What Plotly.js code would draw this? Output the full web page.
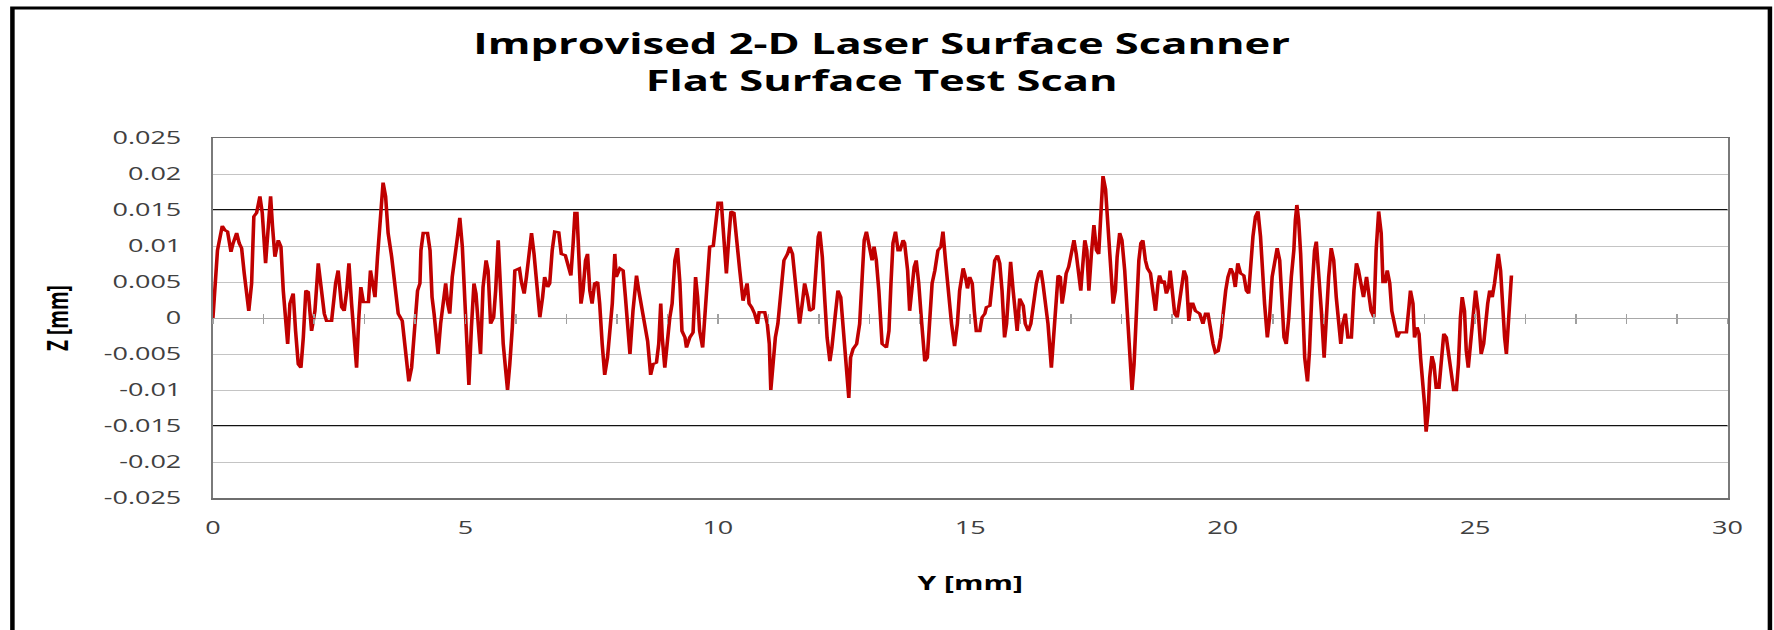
<!DOCTYPE html>
<html>
<head>
<meta charset="utf-8">
<script src="https://cdn.plot.ly/plotly-3.0.1.min.js"></script>
<style>
  html, body { margin: 0; padding: 0; background: #ffffff; overflow: hidden; }
  #wrap { width: 1183px; height: 630px; transform: scaleX(1.49958); transform-origin: 0 0; }
  #chart { width: 1183px; height: 630px; }
</style>
</head>
<body>
<div id="wrap"><div id="chart"></div></div>
<script>
// ---- Data (Y position in mm, Z height in mm) ----
const yPos_0_4 = [0, 0.04, 0.09, 0.185, 0.238, 0.29, 0.357, 0.40, 0.47, 0.52, 0.568, 0.62, 0.67, 0.71, 0.766, 0.81, 0.865, 0.93, 0.977, 1.043, 1.076, 1.142, 1.18, 1.228, 1.294, 1.347, 1.393, 1.44, 1.48, 1.525, 1.59, 1.637, 1.69, 1.743, 1.79, 1.84, 1.888, 1.954, 2.02, 2.086, 2.139, 2.205, 2.25, 2.35, 2.43, 2.48, 2.55, 2.6, 2.65, 2.694, 2.746, 2.8, 2.845, 2.89, 2.93, 2.98, 3.08, 3.12, 3.16, 3.21, 3.26, 3.32, 3.37, 3.42, 3.47, 3.54, 3.6, 3.67, 3.75, 3.80, 3.855, 3.88, 3.935, 3.99, 4.053, 4.1];
const zHeight_0_4 = [0, 0.0048, 0.0094, 0.0128, 0.0122, 0.0120, 0.0092, 0.0104, 0.0118, 0.0104, 0.0097, 0.0062, 0.0024, 0.0010, 0.0048, 0.0141, 0.0146, 0.0169, 0.0146, 0.0076, 0.0108, 0.0169, 0.0127, 0.0085, 0.0108, 0.0099, 0.0038, -0.0013, -0.0036, 0.0020, 0.0034, -0.0018, -0.0064, -0.0069, -0.0027, 0.0038, 0.0036, -0.0018, 0.0010, 0.0076, 0.0038, 0.0006, -0.0004, -0.0004, 0.0048, 0.0066, 0.0015, 0.0010, 0.0038, 0.0076, 0.0020, -0.0036, -0.0069, 0.0001, 0.0043, 0.0022, 0.0022, 0.0066, 0.0048, 0.0029, 0.0085, 0.0150, 0.0188, 0.0169, 0.0118, 0.0085, 0.0048, 0.0006, -0.0004, -0.0036, -0.0074, -0.0088, -0.0069, -0.0013, 0.0038, 0.0048];

const yPos_4_8 = [4.12, 4.165, 4.25, 4.3, 4.34, 4.38, 4.43, 4.46, 4.51, 4.56, 4.61, 4.65, 4.69, 4.74, 4.79, 4.845, 4.89, 4.94, 4.99, 5.04, 5.07, 5.12, 5.17, 5.21, 5.25, 5.30, 5.35, 5.41, 5.45, 5.5, 5.56, 5.6, 5.65, 5.70, 5.75, 5.8, 5.835, 5.88, 5.93, 5.98, 6.07, 6.11, 6.165, 6.21, 6.26, 6.31, 6.36, 6.41, 6.475, 6.53, 6.57, 6.63, 6.67, 6.72, 6.77, 6.85, 6.9, 6.98, 7.04, 7.09, 7.135, 7.17, 7.21, 7.25, 7.29, 7.33, 7.38, 7.42, 7.465, 7.51, 7.56, 7.62, 7.66, 7.71, 7.76, 7.815, 7.86, 7.91, 7.96, 7.99, 8.06, 8.125, 8.17, 8.22, 8.26];
const zHeight_4_8 = [0.0094, 0.0118, 0.0118, 0.0094, 0.0029, 0.0006, -0.0022, -0.0050, -0.0008, 0.0020, 0.0048, 0.0020, 0.0006, 0.0057, 0.0080, 0.0113, 0.0139, 0.0099, 0.0024, -0.0046, -0.0093, -0.0013, 0.0048, 0.0034, -0.0008, -0.0050, 0.0043, 0.0080, 0.0066, -0.0008, 0.0001, 0.0038, 0.0108, 0.0029, -0.0036, -0.0074, -0.0100, -0.0064, -0.0013, 0.0066, 0.0069, 0.0050, 0.0034, 0.0057, 0.0085, 0.0118, 0.0089, 0.0048, 0.0001, 0.0029, 0.0057, 0.0043, 0.0048, 0.0094, 0.0120, 0.0119, 0.0089, 0.0087, 0.0073, 0.0059, 0.0104, 0.0146, 0.0146, 0.0089, 0.0020, 0.0038, 0.0080, 0.0089, 0.0038, 0.0020, 0.0048, 0.0050, 0.0020, -0.0036, -0.0079, -0.0055, -0.0018, 0.0020, 0.0089, 0.0057, 0.0069, 0.0066, 0.0029, -0.0013, -0.0050];

const yPos_8_12 = [8.32, 8.39, 8.435, 8.49, 8.55, 8.61, 8.67, 8.72, 8.785, 8.83, 8.87, 8.9, 8.95, 9.0, 9.05, 9.095, 9.15, 9.2, 9.25, 9.29, 9.35, 9.38, 9.445, 9.51, 9.56, 9.6, 9.64, 9.7, 9.74, 9.795, 9.84, 9.91, 9.95, 10.005, 10.07, 10.125, 10.17, 10.22, 10.26, 10.32, 10.37, 10.435, 10.5, 10.55, 10.58, 10.62, 10.67, 10.73, 10.785, 10.82, 10.93, 10.98, 11.02, 11.05, 11.09, 11.14, 11.19, 11.26, 11.31, 11.38, 11.425, 11.48, 11.52, 11.57, 11.62, 11.68, 11.72, 11.78, 11.82, 11.89, 11.93, 11.99, 12.02, 12.07, 12.12, 12.165, 12.22, 12.26, 12.33, 12.38, 12.435];
const zHeight_8_12 = [0.0010, 0.0059, 0.0038, 0.0015, -0.0004, -0.0032, -0.0079, -0.0064, -0.0062, -0.0036, 0.0020, -0.0027, -0.0069, -0.0032, 0.0001, 0.0020, 0.0080, 0.0097, 0.0048, -0.0018, -0.0027, -0.0041, -0.0027, -0.0020, 0.0057, 0.0029, -0.0018, -0.0041, 0.0001, 0.0057, 0.0099, 0.0100, 0.0132, 0.0160, 0.0160, 0.0094, 0.0062, 0.0113, 0.0148, 0.0146, 0.0104, 0.0066, 0.0024, 0.0038, 0.0048, 0.0020, 0.0015, 0.0006, -0.0008, 0.0008, 0.0008, -0.0008, -0.0036, -0.0100, -0.0069, -0.0027, -0.0008, 0.0048, 0.0080, 0.0089, 0.0099, 0.0089, 0.0057, 0.0029, -0.0008, 0.0024, 0.0048, 0.0029, 0.0010, 0.0013, 0.0062, 0.0113, 0.0120, 0.0085, 0.0024, -0.0027, -0.0060, -0.0041, 0.0006, 0.0038, 0.0029];

const yPos_12_16 = [12.515, 12.57, 12.595, 12.63, 12.68, 12.75, 12.81, 12.86, 12.9, 12.944, 13.01, 13.056, 13.095, 13.14, 13.19, 13.23, 13.254, 13.34, 13.39, 13.43, 13.47, 13.52, 13.57, 13.61, 13.67, 13.70, 13.76, 13.8, 13.85, 13.89, 13.93, 13.98, 14.03, 14.07, 14.1, 14.15, 14.2, 14.245, 14.3, 14.36, 14.42, 14.46, 14.51, 14.56, 14.63, 14.69, 14.745, 14.79, 14.86, 14.905, 14.945, 14.99, 15.04, 15.08, 15.12, 15.19, 15.235, 15.29, 15.32, 15.39, 15.43, 15.485, 15.54, 15.585, 15.63, 15.68, 15.72, 15.76, 15.8, 15.85, 15.88, 15.93, 15.98, 16.05, 16.09, 16.15, 16.2, 16.245, 16.31, 16.36, 16.4, 16.44, 16.49, 16.54];
const zHeight_12_16 = [-0.0036, -0.0093, -0.0111, -0.0055, -0.0043, -0.0036, -0.0008, 0.0057, 0.0108, 0.0120, 0.0099, 0.0080, 0.0099, 0.0080, 0.0038, -0.0018, -0.0036, -0.0041, -0.0018, 0.0048, 0.0104, 0.0120, 0.0094, 0.0094, 0.0108, 0.0104, 0.0066, 0.0010, 0.0048, 0.0071, 0.0080, 0.0048, 0.0001, -0.0027, -0.0060, -0.0055, -0.0008, 0.0048, 0.0066, 0.0094, 0.0099, 0.0120, 0.0080, 0.0038, -0.0008, -0.0039, -0.0008, 0.0038, 0.0069, 0.0057, 0.0041, 0.0057, 0.0048, 0.0010, -0.0018, -0.0018, 0.0001, 0.0006, 0.0015, 0.0017, 0.0048, 0.0080, 0.0087, 0.0076, 0.0038, -0.0027, -0.0008, 0.0038, 0.0078, 0.0038, 0.0020, -0.0018, 0.0027, 0.0017, -0.0008, -0.0018, -0.0008, 0.0020, 0.0048, 0.0062, 0.0066, 0.0048, 0.0020, -0.0008];

const yPos_16_21 = [16.607, 16.66, 16.705, 16.74, 16.785, 16.82, 16.86, 16.9, 16.95, 17.0, 17.055, 17.1, 17.15, 17.19, 17.21, 17.27, 17.31, 17.35, 17.4, 17.45, 17.5, 17.545, 17.585, 17.63, 17.68, 17.73, 17.78, 17.83, 17.875, 17.91, 17.96, 18.005, 18.06, 18.11, 18.16, 18.205, 18.245, 18.29, 18.34, 18.38, 18.42, 18.47, 18.51, 18.57, 18.62, 18.67, 18.72, 18.75, 18.8, 18.84, 18.885, 18.93, 18.96, 19.0, 19.05, 19.1, 19.15, 19.2, 19.235, 19.28, 19.33, 19.38, 19.41, 19.46, 19.545, 19.61, 19.66, 19.71, 19.755, 19.81, 19.855, 19.91, 19.96, 20.01, 20.06, 20.105, 20.16, 20.205, 20.25, 20.30, 20.355, 20.42, 20.47, 20.515, 20.555, 20.6, 20.65, 20.7, 20.75];
const zHeight_16_21 = [-0.0069, -0.0008, 0.0029, 0.0059, 0.0057, 0.0020, 0.0038, 0.0062, 0.0071, 0.0089, 0.0108, 0.0089, 0.0057, 0.0038, 0.0057, 0.0108, 0.0094, 0.0038, 0.0089, 0.0129, 0.0094, 0.0089, 0.0141, 0.0197, 0.0179, 0.0132, 0.0076, 0.0020, 0.0038, 0.0085, 0.0118, 0.0108, 0.0066, 0.0015, -0.0055, -0.0100, -0.0064, 0.0020, 0.0080, 0.0104, 0.0108, 0.0080, 0.0069, 0.0062, 0.0029, 0.0010, 0.0048, 0.0059, 0.0048, 0.0052, 0.0034, 0.0043, 0.0066, 0.0038, 0.0006, 0.0001, 0.0029, 0.0048, 0.0066, 0.0057, -0.0004, 0.0020, 0.0020, 0.0010, 0.0006, -0.0008, 0.0006, 0.0006, -0.0018, -0.0036, -0.0048, -0.0046, -0.0027, 0.0010, 0.0038, 0.0057, 0.0069, 0.0062, 0.0043, 0.0076, 0.0062, 0.0059, 0.0038, 0.0034, 0.0076, 0.0113, 0.0141, 0.0148, 0.0113];

const yPos_21_23 = [20.8, 20.83, 20.885, 20.93, 20.98, 21.03, 21.08, 21.13, 21.175, 21.215, 21.26, 21.31, 21.36, 21.41, 21.44, 21.47, 21.505, 21.545, 21.59, 21.625, 21.68, 21.72, 21.77, 21.82, 21.855, 21.9, 21.955, 22.01, 22.05, 22.1, 22.15, 22.2, 22.25, 22.3, 22.34, 22.38, 22.43, 22.48, 22.55, 22.6, 22.65, 22.69, 22.75, 22.79, 22.85, 22.89, 22.94, 22.995, 23.04, 23.09, 23.14, 23.175, 23.22, 23.26, 23.31, 23.35, 23.41, 23.46];
const zHeight_21_23 = [0.0048, 0.0020, -0.0027, 0.0001, 0.0057, 0.0080, 0.0097, 0.0080, 0.0029, -0.0027, -0.0036, 0.0001, 0.0057, 0.0094, 0.0136, 0.0157, 0.0136, 0.0089, 0.0010, -0.0055, -0.0088, -0.0046, 0.0038, 0.0094, 0.0106, 0.0066, 0.0010, -0.0055, 0.0001, 0.0057, 0.0097, 0.0080, 0.0029, -0.0008, -0.0036, -0.0008, 0.0006, -0.0027, -0.0027, 0.0038, 0.0076, 0.0066, 0.0038, 0.0029, 0.0057, 0.0038, 0.0010, 0.0001, 0.0094, 0.0148, 0.0118, 0.0050, 0.0050, 0.0066, 0.0048, 0.0010, -0.0013, -0.0027];

const yPos_23_26 = [23.505, 23.64, 23.69, 23.72, 23.77, 23.8, 23.85, 23.89, 23.92, 23.97, 24.0, 24.03, 24.07, 24.1, 24.145, 24.185, 24.23, 24.285, 24.33, 24.38, 24.43, 24.48, 24.53, 24.575, 24.63, 24.67, 24.71, 24.745, 24.79, 24.825, 24.865, 24.905, 24.96, 25.01, 25.06, 25.09, 25.12, 25.17, 25.21, 25.25, 25.29, 25.34, 25.385, 25.42, 25.46, 25.505, 25.54, 25.585, 25.62, 25.65, 25.685, 25.72];
const zHeight_23_26 = [-0.0020, -0.0020, 0.0015, 0.0038, 0.0020, -0.0027, -0.0013, -0.0022, -0.0055, -0.0092, -0.0121, -0.0158, -0.0130, -0.0083, -0.0053, -0.0064, -0.0097, -0.0097, -0.0064, -0.0022, -0.0027, -0.0055, -0.0083, -0.0100, -0.0100, -0.0064, 0.0001, 0.0029, 0.0010, -0.0045, -0.0069, -0.0036, 0.0015, 0.0038, 0.0010, -0.0032, -0.0050, -0.0036, 0.0001, 0.0020, 0.0038, 0.0029, 0.0048, 0.0066, 0.0089, 0.0066, 0.0010, -0.0027, -0.0050, -0.0018, 0.0034, 0.0059];

// Tolerance limit lines (mm)
const limitLines = [0.015, -0.015];

// Tick labels
const xTickValues = [0, 5, 10, 15, 20, 25, 30];
const xTickText = ['0', '5', '10', '15', '20', '25', '30'];
const zTickValues = [0.025, 0.02, 0.015, 0.01, 0.005, 0, -0.005, -0.01, -0.015, -0.02, -0.025];
const zTickText = ['0.025', '0.02', '0.015', '0.01', '0.005', '0', '-0.005', '-0.01', '-0.015', '-0.02', '-0.025'];

const titleText = 'Improvised 2-D Laser Surface Scanner<br>Flat Surface Test Scan';
const xTitle = 'Y [mm]';
const zTitle = 'Z [mm]';

// ---- Assemble ----
const yPosition = [].concat(yPos_0_4, yPos_4_8, yPos_8_12, yPos_12_16, yPos_16_21, yPos_21_23, yPos_23_26);
const zHeight = [].concat(zHeight_0_4, zHeight_4_8, zHeight_8_12, zHeight_12_16, zHeight_16_21, zHeight_21_23, zHeight_23_26);

const FONT = '"Open Sans", "Liberation Sans", Arial, sans-serif';

const traces = [
  {
    x: yPosition, y: zHeight, type: 'scatter', mode: 'lines',
    line: { color: '#c00000', width: 2.4 },
    hoverinfo: 'skip', showlegend: false
  },
  // carriers for the tick-mark axes running along Z = 0
  { x: yPosition, y: zHeight, xaxis: 'x2', yaxis: 'y', type: 'scatter', mode: 'none', hoverinfo: 'skip', showlegend: false },
  { x: yPosition, y: zHeight, xaxis: 'x3', yaxis: 'y', type: 'scatter', mode: 'none', hoverinfo: 'skip', showlegend: false }
];

const shapes = limitLines.map(v => ({
  type: 'line', xref: 'paper', yref: 'y', x0: 0, x1: 1, y0: v, y1: v,
  line: { color: '#111111', width: 2 }, layer: 'between'
}));
// outer chart frame (left, top, right)
shapes.push({
  type: 'path', xref: 'paper', yref: 'paper',
  path: 'M -0.1324,-0.45 L -0.1324,1.3611 L 1.028,1.3611 L 1.028,-0.45',
  line: { color: '#000000', width: 3 }, layer: 'above'
});

const layout = {
  width: 1183, height: 630,
  paper_bgcolor: '#ffffff', plot_bgcolor: '#ffffff',
  margin: { l: 142, r: 31, t: 138, b: 132, autoexpand: false },
  font: { family: FONT, color: '#404040' },
  title: {
    text: titleText, x: 0.497, xref: 'container', xanchor: 'center',
    y: 0.915, yref: 'container', yanchor: 'top',
    font: { family: FONT, size: 29, color: '#000000', weight: 700 }
  },
  xaxis: {
    range: [0, 30], tickvals: xTickValues, ticktext: xTickText,
    showgrid: false, zeroline: false, ticks: '',
    showline: true, mirror: true, linecolor: '#6e6e6e', linewidth: 1.5,
    tickfont: { family: FONT, size: 18, color: '#404040' },
    ticklabelstandoff: 13,
    title: { text: xTitle, standoff: 38, font: { family: FONT, size: 20, color: '#000000', weight: 700 } },
    automargin: false, fixedrange: true
  },
  xaxis2: {
    overlaying: 'x', anchor: 'free', position: 0.5, range: [0, 30],
    tick0: 0, dtick: 1, ticks: 'inside', ticklen: 4, tickwidth: 1, tickcolor: '#a0a0a0',
    showticklabels: false, showgrid: false, zeroline: false, showline: false, fixedrange: true
  },
  xaxis3: {
    overlaying: 'x', anchor: 'free', position: 0.5, range: [0, 30],
    tick0: 0, dtick: 1, ticks: 'outside', ticklen: 5, tickwidth: 1, tickcolor: '#a0a0a0',
    showticklabels: false, showgrid: false, zeroline: false, showline: false, fixedrange: true
  },
  yaxis: {
    range: [-0.025, 0.025], tickvals: zTickValues, ticktext: zTickText,
    showgrid: true, gridcolor: '#c4c4c4', gridwidth: 1,
    zeroline: true, zerolinecolor: '#a8a8a8', zerolinewidth: 1,
    ticks: '', ticklabelstandoff: 16,
    showline: true, mirror: true, linecolor: '#7a7a7a', linewidth: 1.5,
    tickfont: { family: FONT, size: 18, color: '#404040' },
    title: { text: zTitle, standoff: 18, font: { family: FONT, size: 19, color: '#000000', weight: 700 } },
    automargin: false, fixedrange: true
  },
  shapes: shapes,
  showlegend: false
};

Plotly.newPlot('chart', traces, layout, { staticPlot: true, displayModeBar: false });
</script>
</body>
</html>
